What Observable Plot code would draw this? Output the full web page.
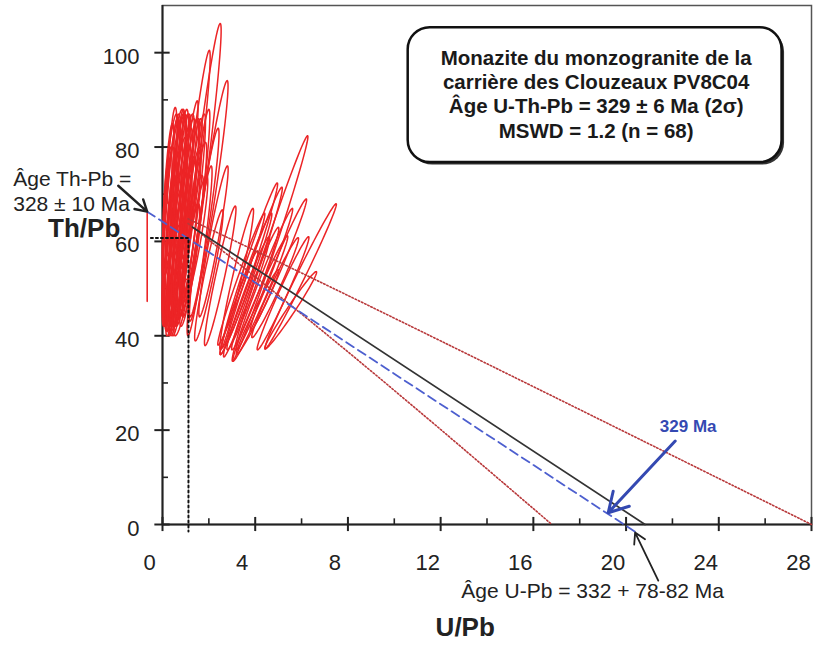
<!DOCTYPE html>
<html>
<head>
<meta charset="utf-8">
<script src="https://cdn.jsdelivr.net/npm/d3@7"></script>
<script src="https://cdn.jsdelivr.net/npm/@observablehq/plot@0.6"></script>
<style>
  html, body { margin: 0; padding: 0; background: #fff; }
  #chart { width: 813px; height: 645px; }
</style>
</head>
<body>
<div id="chart"></div>
<script>
// ---- tick values ----
const xMajor = [0, 4, 8, 12, 16, 20, 24, 28];
const xMinor = [2, 6, 10, 14, 18, 22, 26];
const yMajor = [0, 20, 40, 60, 80, 100];
const yMinor = [10, 30, 50, 70, 90];

// ---- error ellipses: [U/Pb centre, Th/Pb centre, tip dx, tip dy, half width] ----
const ellipses = [
  // dense group near the Th/Pb axis
  [0.35, 64, 0.30, 22, 0.22], [0.45, 60, 0.28, 19, 0.24], [0.55, 66, 0.35, 21, 0.26],
  [0.30, 58, 0.22, 16, 0.18], [0.65, 62, 0.32, 20, 0.24], [0.75, 68, 0.40, 19, 0.26],
  [0.85, 63, 0.38, 21, 0.24], [0.40, 70, 0.30, 17, 0.22], [0.95, 60, 0.42, 18, 0.24],
  [0.60, 72, 0.36, 15, 0.24], [0.25, 66, 0.20, 14, 0.18], [1.05, 66, 0.44, 20, 0.26],
  [0.50, 56, 0.30, 15, 0.22], [0.70, 57, 0.33, 17, 0.24], [1.15, 62, 0.45, 18, 0.24],
  [0.90, 70, 0.40, 17, 0.24], [0.35, 75, 0.25, 12, 0.18], [0.80, 54, 0.35, 14, 0.22],
  [1.25, 58, 0.45, 16, 0.24], [0.55, 78, 0.30, 10, 0.18], [0.45, 50, 0.25, 9, 0.18],
  [0.20, 62, 0.15, 18, 0.15], [1.00, 55, 0.40, 13, 0.22], [0.65, 49, 0.28, 8, 0.18],
  [1.20, 70, 0.45, 16, 0.24], [0.75, 75, 0.35, 12, 0.22], [1.35, 64, 0.50, 17, 0.24],
  [0.40, 45, 0.20, 5, 0.15], [0.30, 54, 0.20, 12, 0.17], [0.60, 64, 0.30, 24, 0.24],
  [0.85, 58, 0.35, 16, 0.24], [1.10, 72, 0.45, 14, 0.24], [0.50, 68, 0.30, 18, 0.22],
  [0.70, 66, 0.35, 22, 0.24], [1.30, 67, 0.50, 20, 0.24], [0.95, 74, 0.40, 12, 0.22],
  [0.25, 70, 0.18, 15, 0.17], [1.15, 56, 0.40, 12, 0.22], [0.80, 46, 0.25, 6, 0.17],
  [1.40, 60, 0.50, 14, 0.24],
  // tall ellipses
  [1.735, 76.8, 0.755, 29.4, 0.25], [1.39, 75.0, 0.63, 25.5, 0.22], [1.99, 68.6, 0.80, 25.5, 0.25],
  [0.96, 68.6, 0.54, 21.2, 0.20], [0.33, 67.9, 0.22, 20.5, 0.20], [2.00, 52.8, 0.58, 13.9, 0.20],
  [2.49, 52.7, 0.65, 14.8, 0.20], [1.60, 58, 0.50, 18, 0.20], [1.80, 64, 0.60, 20, 0.22],
  [1.45, 66, 0.55, 22, 0.22], [2.20, 60, 0.60, 16, 0.20],
  // second group
  [4.64, 58.5, 1.62, 23.9, 0.22], [3.76, 54.9, 1.19, 17.5, 0.20], [5.96, 52.6, 1.53, 15.4, 0.20],
  [4.22, 47.9, 1.17, 13.3, 0.20], [4.86, 50.2, 0.99, 10.6, 0.20], [5.53, 45.4, 1.10, 8.2, 0.20],
  [3.90, 53.5, 1.25, 18.0, 0.22], [3.60, 51, 1.10, 15, 0.20], [4.00, 50, 1.00, 13, 0.20],
  [3.40, 52, 1.00, 14, 0.18], [4.40, 52, 1.20, 15, 0.20], [5.20, 49, 1.10, 12, 0.20],
  [3.30, 47, 0.80, 11, 0.18], [4.10, 45, 0.90, 9, 0.18], [5.00, 55, 1.20, 14, 0.20],
  [3.70, 49, 0.90, 12, 0.20], [3.20, 52, 0.70, 15, 0.20]
];
// degenerate measurement (vertical bar) left of the axis
const barX = [-0.66];
const barY = [47.3, 66];

// ---- reference lines ----
const isochronX = [1.3, 20.82];      // black solid
const isochronY = [63.0, 0];
const refX = [-0.66, 20.44];         // blue dashed (329 Ma)
const refY = [66.3, -1.7];
const envUpperX = [1.1, 8.1, 28];    // dark red dotted envelopes
const envUpperY = [64.8, 48.5, 0];
const envLowerX = [1.1, 8.1, 16.8];
const envLowerY = [63.8, 36.6, 0];
const thPbPoint = [1.12, 60.7];      // dotted projection

// ---- texts ----
const titleLines = [
  "Monazite du monzogranite de la",
  "carrière des Clouzeaux PV8C04",
  "Âge U-Th-Pb = 329 ± 6 Ma (2σ)",
  "MSWD = 1.2 (n = 68)"
];
const thPbAgeText = ["Âge Th-Pb =", "328 ± 10 Ma"];
const uPbAgeText = "Âge U-Pb = 332 + 78-82 Ma";
const blueLabel = "329 Ma";

const font = "Liberation Sans, Arial, Helvetica, sans-serif";
const red = "#ec2426";
const darkRed = "#b8383a";
const blue = "#4d5fcf";
const arrowBlue = "#3449b2";

const ellipsePts = ellipses.flatMap(([cx, cy, tdx, tdy, hw], i) =>
  d3.range(0, 73).map(k => {
    const t = (k / 72) * 2 * Math.PI;
    return {i, x: cx + tdx * Math.sin(t) + hw * Math.cos(t), y: cy + tdy * Math.sin(t)};
  })
);
const toPts = (xs, ys) => xs.map((x, i) => ({x, y: ys[i]}));

const chart = Plot.plot({
  width: 813,
  height: 645,
  marginLeft: 162,
  marginRight: 2,
  marginTop: 5,
  marginBottom: 121,
  x: {domain: [0, 28], axis: null},
  y: {domain: [0, 110], axis: null},
  style: {fontFamily: font, background: "white", overflow: "visible"},
  marks: [
    Plot.frame({stroke: "#555", strokeWidth: 1.5}),
    Plot.ruleX([0], {stroke: "#222", strokeWidth: 2}),
    Plot.ruleY([0], {stroke: "#222", strokeWidth: 2}),
    // ticks
    Plot.ruleX(xMajor, {x: d => d, y1: -1.5, y2: 1.5, stroke: "#222", strokeWidth: 2}),
    Plot.ruleX(xMinor, {x: d => d, y1: 0, y2: 1.2, stroke: "#222", strokeWidth: 1.6}),
    Plot.ruleY(yMajor, {y: d => d, x1: -0.33, x2: 0.33, stroke: "#222", strokeWidth: 2}),
    Plot.ruleY(yMinor, {y: d => d, x1: 0, x2: 0.26, stroke: "#222", strokeWidth: 1.6}),
    // tick labels
    Plot.text(xMajor, {x: d => d, text: d => String(d), frameAnchor: "bottom", lineAnchor: "middle", dy: 38, dx: -13, fontSize: 22, fill: "#222"}),
    Plot.text(yMajor, {y: d => d, text: d => String(d), frameAnchor: "left", textAnchor: "end", dx: -23, dy: 4, fontSize: 22, fill: "#222"}),
    // ellipses
    Plot.line(ellipsePts, {x: "x", y: "y", z: "i", stroke: red, strokeWidth: 1.5}),
    Plot.line(toPts([barX[0], barX[0]], barY), {x: "x", y: "y", stroke: red, strokeWidth: 1.6}),
    // envelopes and lines
    Plot.line(toPts(envUpperX, envUpperY), {x: "x", y: "y", stroke: darkRed, strokeWidth: 1.6, strokeDasharray: "1.5,2", curve: "basis"}),
    Plot.line(toPts(envLowerX, envLowerY), {x: "x", y: "y", stroke: darkRed, strokeWidth: 1.6, strokeDasharray: "1.5,2", curve: "basis"}),
    Plot.line(toPts(isochronX, isochronY), {x: "x", y: "y", stroke: "#333", strokeWidth: 1.7}),
    Plot.line(toPts(refX, refY), {x: "x", y: "y", stroke: blue, strokeWidth: 1.8, strokeDasharray: "9,5"}),
    // dotted projection of Th/Pb intercept
    Plot.line([{x: -0.5, y: thPbPoint[1]}, {x: thPbPoint[0], y: thPbPoint[1]}, {x: thPbPoint[0], y: -1.5}],
      {x: "x", y: "y", stroke: "#111", strokeWidth: 2, strokeDasharray: "2,3"}),
    // blue arrow and label
    Plot.arrow([{x1: 22.12, y1: 17.7, x2: 19.23, y2: 2.5}], {x1: "x1", y1: "y1", x2: "x2", y2: "y2", stroke: arrowBlue, strokeWidth: 3, headLength: 11}),
    Plot.text([blueLabel], {x: 22.68, y: 20.8, fill: arrowBlue, fontWeight: "bold", fontSize: 17}),
    // black annotation arrows
    Plot.arrow([{x1: -1.91, y1: 71.8, x2: -0.66, y2: 66.3}], {x1: "x1", y1: "y1", x2: "x2", y2: "y2", stroke: "#222", strokeWidth: 2.4, headLength: 9}),
    Plot.arrow([{x1: 21.39, y1: -11.9, x2: 20.39, y2: -1.7}], {x1: "x1", y1: "y1", x2: "x2", y2: "y2", stroke: "#222", strokeWidth: 1.8, headLength: 10}),
    Plot.text([thPbAgeText.join("\n")], {x: -6.44, y: 70.7, textAnchor: "start", lineAnchor: "middle", lineHeight: 1.19, fontSize: 21, fill: "#222"}),
    Plot.text([uPbAgeText], {x: 18.56, y: -14.2, fontSize: 21, fill: "#222"}),
    // axis titles
    Plot.text(["Th/Pb"], {x: -3.38, y: 62.7, fontSize: 26, fontWeight: "bold", fill: "#222"}),
    Plot.text(["U/Pb"], {x: 13.06, y: -21.9, fontSize: 26, fontWeight: "bold", fill: "#222"}),
    // title box
    Plot.rect([{x1: 10.6, x2: 26.73, y1: 76.7, y2: 105.3}], {x1: "x1", x2: "x2", y1: "y1", y2: "y2", dx: 2.5, dy: 2.5, fill: "#333", rx: 22}),
    Plot.rect([{x1: 10.6, x2: 26.73, y1: 76.7, y2: 105.3}], {x1: "x1", x2: "x2", y1: "y1", y2: "y2", fill: "white", stroke: "#111", strokeWidth: 2.5, rx: 22}),
    Plot.text([titleLines.join("\n")], {x: 18.71, y: 91.35, lineAnchor: "middle", lineHeight: 1.18, fontSize: 20.5, fontWeight: "bold", fill: "#1a1a1a"})
  ]
});
document.getElementById("chart").appendChild(chart);
</script>
</body>
</html>
